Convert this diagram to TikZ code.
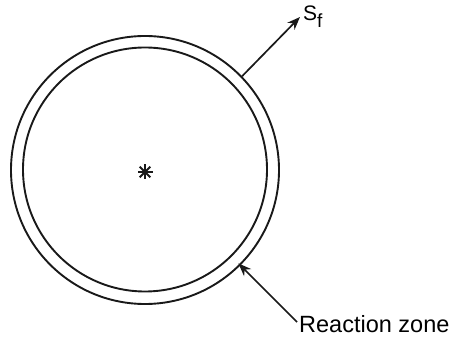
\documentclass[tikz,border=0pt]{standalone}
\usepackage{fontspec}
\setmainfont{Liberation Sans}
\usetikzlibrary{arrows.meta}
\begin{document}
\begin{tikzpicture}[x=1pt,y=1pt,
  ring/.style={draw=black!90,line width=1.9pt,circle,inner sep=0pt},
  arrowline/.style={draw=black!90,line width=1.7pt,-{Stealth[length=13pt,width=10pt]}},
  spoke/.style={line width=2pt,black!90}]
\useasboundingbox (0,0) rectangle (455,339);
\node[ring,minimum size=268pt] (outer) at (145,169) {};
\node[ring,minimum size=244pt] (inner) at (145,169.5) {};
% central asterisk
\coordinate (c) at (145,167);
\foreach \a in {0,45,...,315}{
  \draw[spoke] (c) -- ++(\a:7.5pt);
}
% S_f label and arrow
\node[anchor=base west,inner sep=0pt,font=\fontsize{21}{24}\selectfont] (sf) at (303,318) {S\raisebox{-0.3em}{\fontsize{19}{22}\selectfont f}};
\coordinate (sftip) at (300,322);
\draw[arrowline] (outer.44) -- (sftip);
% Reaction zone label and arrow
\node[anchor=base west,inner sep=0pt,font=\fontsize{23.5}{26}\selectfont] (rz) at (299,6) {Reaction zone};
\coordinate (rztail) at (297,17);
\coordinate (rztip) at ([shift={(-2,2)}]outer.-45.5);
\draw[arrowline] (rztail) -- (rztip);
\end{tikzpicture}
\end{document}
